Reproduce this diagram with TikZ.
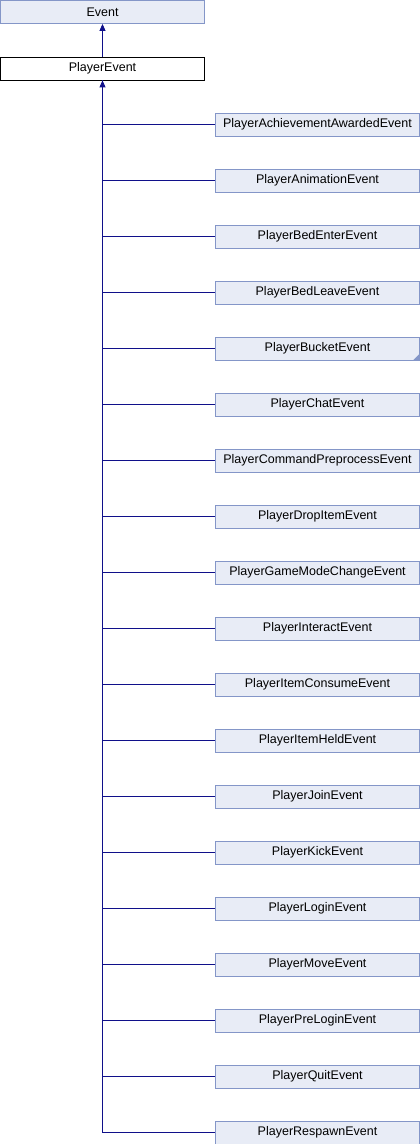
\documentclass[tikz,border=0pt]{standalone}
\usepackage{fontspec}
\setmainfont{Liberation Sans}
\usetikzlibrary{arrows.meta}
\definecolor{boxfill}{HTML}{E8ECF6}
\definecolor{boxline}{HTML}{8496C8}
\definecolor{linkblue}{HTML}{10108A}
\tikzset{
  cls/.style={draw=boxline, fill=boxfill, line width=0.8pt, rectangle, minimum width=204pt, minimum height=23pt, inner sep=0pt, font=\fontsize{12.5}{14}\selectfont},
  cur/.style={cls, draw=black, fill=white},
  link/.style={draw=linkblue, line width=0.9pt},
  inh/.style={link, {Triangle[length=7pt,width=6pt]}-}
}
\begin{document}
\begin{tikzpicture}[x=1pt, y=-1pt]
            \useasboundingbox (0,0) rectangle (420,1144);
            % base classes
            \node[cls] (ev) at (102.5,12) {Event};
            \node[cur] (pe) at (102.5,68.5) {PlayerEvent};
            \draw[inh] (ev.south) -- (pe.north);

            % derived classes
            \node[cls] (c1) at (317.5,124.5) {PlayerAchievementAwardedEvent};
            \node[cls] (c2) at (317.5,180.5) {PlayerAnimationEvent};
            \node[cls] (c3) at (317.5,236.5) {PlayerBedEnterEvent};
            \node[cls] (c4) at (317.5,292.5) {PlayerBedLeaveEvent};
            \node[cls] (c5) at (317.5,348.5) {PlayerBucketEvent};
            \node[cls] (c6) at (317.5,404.5) {PlayerChatEvent};
            \node[cls] (c7) at (317.5,460.5) {PlayerCommandPreprocessEvent};
            \node[cls] (c8) at (317.5,516.5) {PlayerDropItemEvent};
            \node[cls] (c9) at (317.5,572.5) {PlayerGameModeChangeEvent};
            \node[cls] (c10) at (317.5,628.5) {PlayerInteractEvent};
            \node[cls] (c11) at (317.5,684.5) {PlayerItemConsumeEvent};
            \node[cls] (c12) at (317.5,740.5) {PlayerItemHeldEvent};
            \node[cls] (c13) at (317.5,796.5) {PlayerJoinEvent};
            \node[cls] (c14) at (317.5,852.5) {PlayerKickEvent};
            \node[cls] (c15) at (317.5,908.5) {PlayerLoginEvent};
            \node[cls] (c16) at (317.5,964.5) {PlayerMoveEvent};
            \node[cls] (c17) at (317.5,1020.5) {PlayerPreLoginEvent};
            \node[cls] (c18) at (317.5,1076.5) {PlayerQuitEvent};
            \node[cls] (c19) at (317.5,1132.5) {PlayerRespawnEvent};

            % more subclasses marker
            \fill[boxline] (c5.south east) -- ++(0,-7) -- ++(-7,7) -- cycle;

            % Inheritance
            \draw[inh] (pe.south) |- (c1.west);
            \draw[link] (pe.south) |- (c2.west);
            \draw[link] (pe.south) |- (c3.west);
            \draw[link] (pe.south) |- (c4.west);
            \draw[link] (pe.south) |- (c5.west);
            \draw[link] (pe.south) |- (c6.west);
            \draw[link] (pe.south) |- (c7.west);
            \draw[link] (pe.south) |- (c8.west);
            \draw[link] (pe.south) |- (c9.west);
            \draw[link] (pe.south) |- (c10.west);
            \draw[link] (pe.south) |- (c11.west);
            \draw[link] (pe.south) |- (c12.west);
            \draw[link] (pe.south) |- (c13.west);
            \draw[link] (pe.south) |- (c14.west);
            \draw[link] (pe.south) |- (c15.west);
            \draw[link] (pe.south) |- (c16.west);
            \draw[link] (pe.south) |- (c17.west);
            \draw[link] (pe.south) |- (c18.west);
            \draw[link] (pe.south) |- (c19.west);
\end{tikzpicture}
\end{document}
